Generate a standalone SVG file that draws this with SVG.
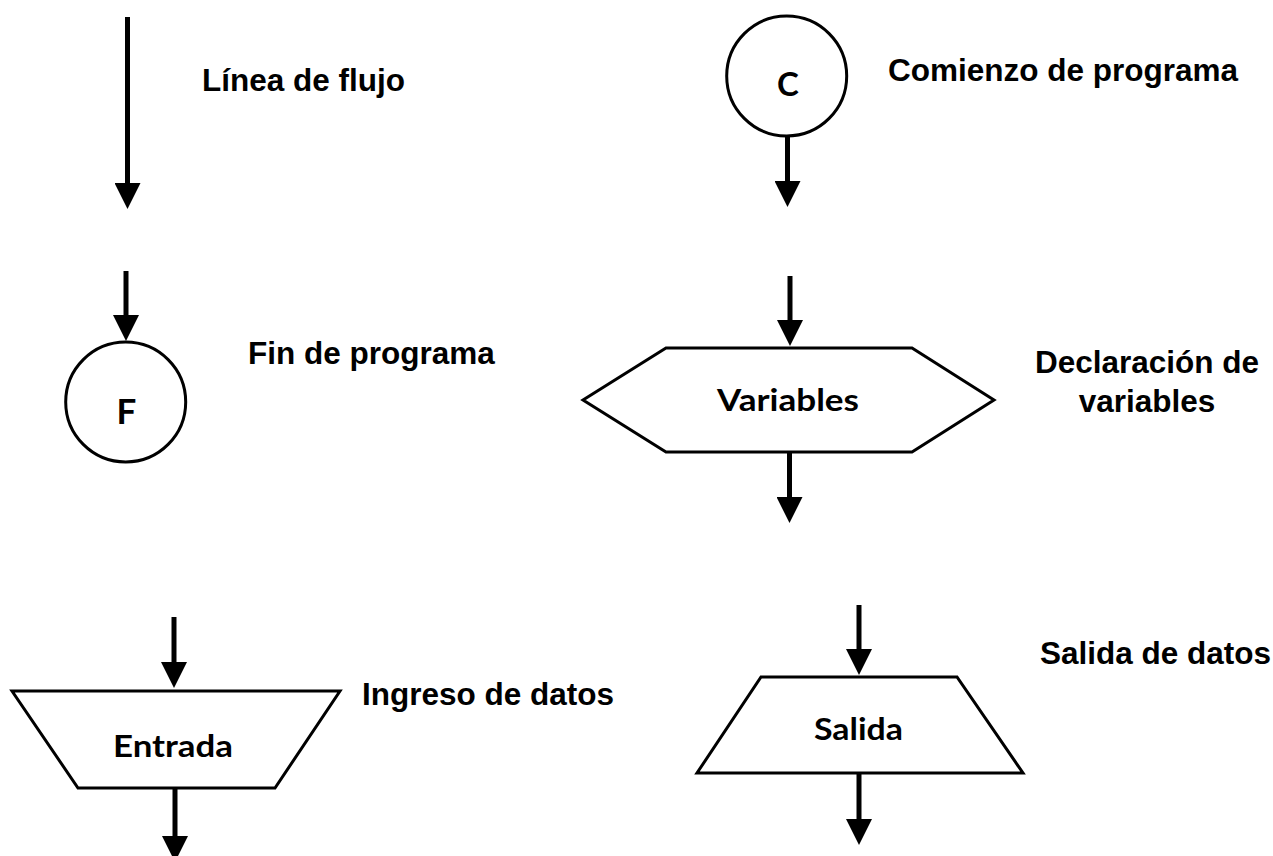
<svg xmlns="http://www.w3.org/2000/svg" width="1273" height="856" viewBox="0 0 1273 856">
<defs>
<marker id="ah" viewBox="0 0 26 26" refX="2" refY="13" markerWidth="26" markerHeight="26" markerUnits="userSpaceOnUse" orient="auto">
<path d="M0,0 L26,13 L0,26 Z" fill="#000"/>
</marker>
<style>
.shape{fill:#fff;stroke:#000;stroke-width:3}
.flow{stroke:#000;stroke-width:5;fill:none;marker-end:url(#ah)}
.lbl{font-family:"Liberation Sans",Arial,sans-serif;font-weight:bold;font-size:31.5px;fill:#000}
.nt{font-family:Lato,"Open Sans",sans-serif;font-weight:bold;font-size:30px;fill:#000;text-anchor:middle}
</style>
</defs>
<rect width="1273" height="856" fill="#fff"/>
<g id="connectors">
<line class="flow" x1="127.5" y1="17" x2="127.5" y2="185"/>
<line class="flow" x1="787.5" y1="137" x2="787.5" y2="183"/>
<line class="flow" x1="126" y1="271" x2="126" y2="317"/>
<line class="flow" x1="790" y1="276" x2="790" y2="322"/>
<line class="flow" x1="789.5" y1="452" x2="789.5" y2="499"/>
<line class="flow" x1="174" y1="617" x2="174" y2="664"/>
<line class="flow" x1="175" y1="788" x2="175" y2="838"/>
<line class="flow" x1="859" y1="605" x2="859" y2="651"/>
<line class="flow" x1="859" y1="773" x2="859" y2="821"/>
</g>
<g id="linea-flujo">
<text class="lbl" x="202" y="91">Línea de flujo</text>
</g>
<g id="comienzo">
<circle class="shape" cx="786.7" cy="76" r="60"/>
<text class="nt" x="788" y="96" style="font-size:33px">C</text>
<text class="lbl" x="888" y="81">Comienzo de programa</text>
</g>
<g id="fin">
<circle class="shape" cx="125.7" cy="402" r="60"/>
<text class="nt" x="126.5" y="424" style="font-size:35px">F</text>
<text class="lbl" x="248" y="364">Fin de programa</text>
</g>
<g id="variables">
<polygon class="shape" points="583,400 666,348 912,348 994,400 912,452 666,452"/>
<text class="nt" x="788" y="411" textLength="142" lengthAdjust="spacingAndGlyphs">Variables</text>
<text class="lbl" x="1147" y="373" text-anchor="middle">Declaración de</text>
<text class="lbl" x="1147" y="412" text-anchor="middle">variables</text>
</g>
<g id="entrada">
<polygon class="shape" points="12,691 340,691 275,788 78,788"/>
<text class="nt" x="173" y="757" textLength="120" lengthAdjust="spacingAndGlyphs">Entrada</text>
<text class="lbl" x="362" y="705">Ingreso de datos</text>
</g>
<g id="salida">
<polygon class="shape" points="761,677 957,677 1023,773 697,773"/>
<text class="nt" x="858.5" y="740" textLength="89" lengthAdjust="spacingAndGlyphs">Salida</text>
<text class="lbl" x="1040" y="664">Salida de datos</text>
</g>
</svg>
